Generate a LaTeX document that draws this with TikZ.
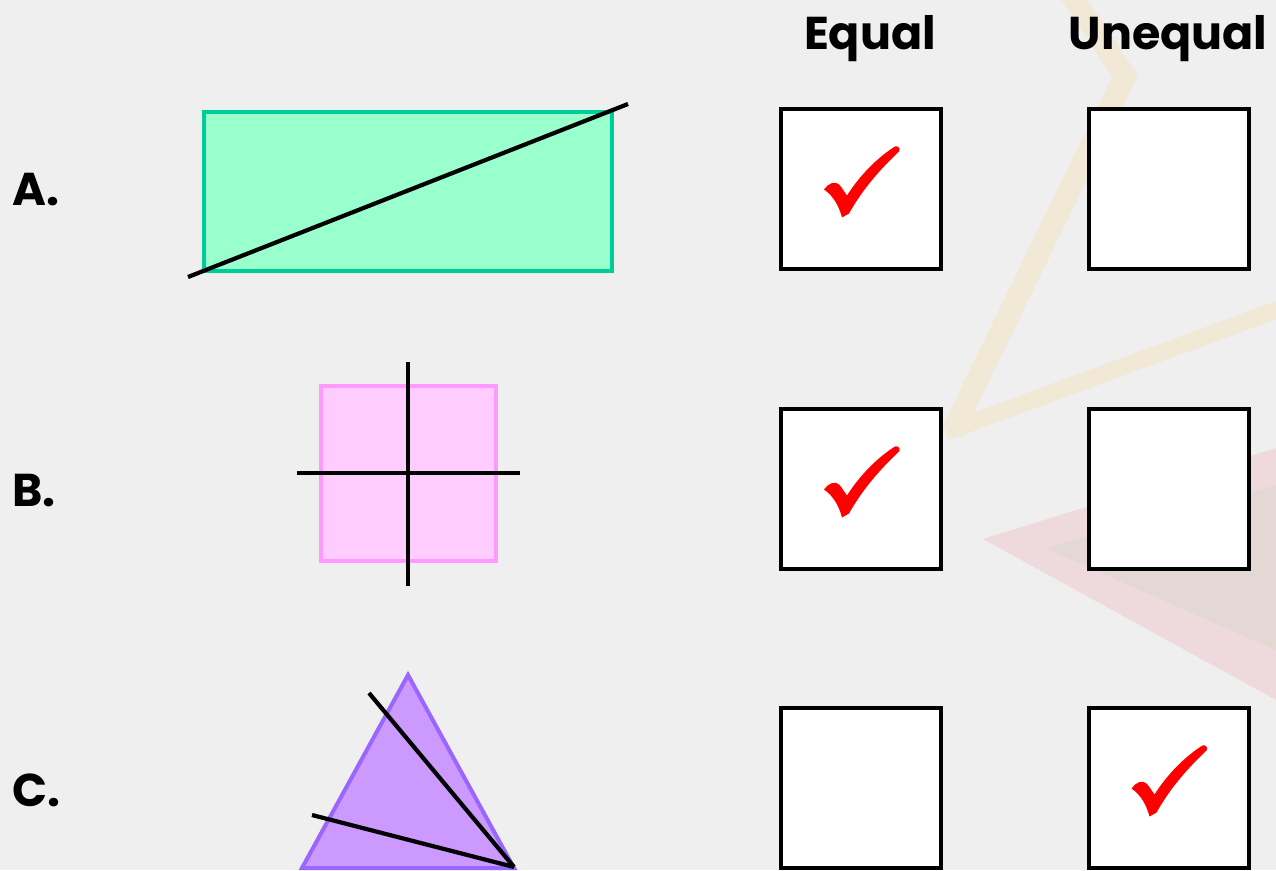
\documentclass[tikz,border=0pt]{standalone}
\usepackage{fontspec}
\setmainfont{Poppins}
\usepackage{xcolor}
\usepackage{tikz}
\definecolor{paper}{RGB}{239,239,239}
\definecolor{tanband}{RGB}{241,232,214}
\definecolor{pinkband}{RGB}{238,218,220}
\definecolor{dustbrown}{RGB}{228,216,212}
\definecolor{mintfill}{RGB}{153,255,204}
\definecolor{mintline}{RGB}{0,204,153}
\definecolor{pinkfill}{RGB}{255,204,255}
\definecolor{pinkline}{RGB}{255,153,255}
\definecolor{lilacfill}{RGB}{204,153,255}
\definecolor{lilacline}{RGB}{153,102,255}
\definecolor{tickred}{RGB}{255,0,0}

\begin{document}
\begin{tikzpicture}[x=1pt,y=-1pt, line join=miter,
    tickbox/.style={draw=black,fill=white,line width=4pt,minimum size=160pt,inner sep=0pt},
    cut/.style={line width=4.2pt,black},
    labeltext/.style={font=\fontsize{46}{46}\selectfont\bfseries,inner sep=0pt},
    checkpic/.pic={
        \fill[tickred] (-37,1) .. controls (-33,-5) and (-26,-8) .. (-22,-4)
            .. controls (-19,-1) and (-17,3) .. (-14,7)
            .. controls (0,-15) and (18,-32) .. (34,-42)
            .. controls (37,-43) and (40,-40) .. (38,-37)
            .. controls (20,-20) and (2,0) .. (-12,25)
            -- (-19,29) .. controls (-22,18) and (-27,8) .. (-37,1) -- cycle;
    }]
    % frame
    \fill[paper] (0,0) rectangle (1276,870);
    \useasboundingbox (0,0) rectangle (1276,870);
    % faint background photo
    \fill[pinkband] (983,539) -- (1276,448) -- (1276,700) -- cycle;
    \fill[dustbrown] (1045,548) -- (1276,485) -- (1276,650) -- cycle;
    \draw[tanband,line width=22pt] (1068,-10) -- (1125,76) -- (952,432);
    \draw[tanband,line width=17pt] (946,432) -- (1290,305);
    % headers
    \node[labeltext,anchor=base] (hdeq) at (870,49) {Equal};
    \node[labeltext,anchor=base] (hdun) at (1168,49) {Unequal};
    % row labels
    \foreach \lab/\yy in {A/190,B/491,C/790}
        \node[labeltext,anchor=west] (lab\lab) at (12,\yy) {\lab.};
    % shape A: rectangle cut on the diagonal
    \draw[fill=mintfill,draw=mintline,line width=4pt] (204,112) rectangle (612,271);
    \coordinate (diagA) at (188,277);
    \coordinate (diagB) at (628,104);
    \draw[cut] (diagA) -- (diagB);
    % shape B: square cut into quarters
    \draw[fill=pinkfill,draw=pinkline,line width=4pt] (321,386) rectangle (496,561);
    \coordinate (vtop) at (408,362);
    \coordinate (vbot) at (408,586);
    \coordinate (hlft) at (297,473);
    \coordinate (hrgt) at (520,473);
    \draw[cut] (vtop) -- (vbot);
    \draw[cut] (hlft) -- (hrgt);
    % shape C: triangle cut into three
    \draw[fill=lilacfill,draw=lilacline,line width=4pt] (408,675) -- (302,868) -- (514,868) -- cycle;
    \coordinate (corner) at (514,867);
    \coordinate (cutone) at (369,693);
    \coordinate (cuttwo) at (312,815);
    \draw[cut] (cutone) -- (corner);
    \draw[cut] (cuttwo) -- (corner);
    % answer boxes
    \foreach \row/\yy in {A/188.5,B/488.5,C/787.5} {
        \node[tickbox] (eq\row) at (861,\yy) {};
        \node[tickbox] (un\row) at (1168.5,\yy) {};
    }
    % ticks
    \pic at (eqA) {checkpic};
    \pic at (eqB) {checkpic};
    \pic at (unC) {checkpic};
\end{tikzpicture}
\end{document}
